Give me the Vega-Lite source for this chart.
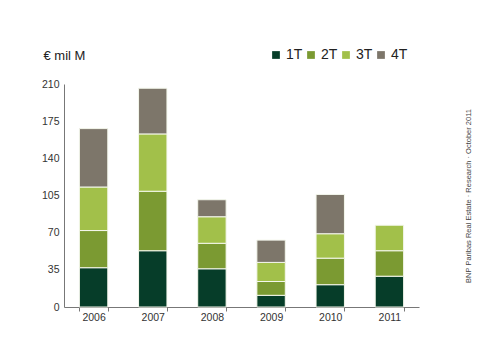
{
  "$schema": "https://vega.github.io/schema/vega-lite/v6.json",
  "width": 355,
  "height": 223,
  "autosize": "none",
  "padding": {"left": 64, "top": 84, "right": 81, "bottom": 49},
  "background": "white",
  "config": {"view": {"stroke": null}},
  "data": {"values": [
    {"year": "2006", "quarter": "1T", "value": 37},
    {"year": "2006", "quarter": "2T", "value": 35},
    {"year": "2006", "quarter": "3T", "value": 41},
    {"year": "2006", "quarter": "4T", "value": 55},
    {"year": "2007", "quarter": "1T", "value": 53},
    {"year": "2007", "quarter": "2T", "value": 56},
    {"year": "2007", "quarter": "3T", "value": 54},
    {"year": "2007", "quarter": "4T", "value": 43},
    {"year": "2008", "quarter": "1T", "value": 36},
    {"year": "2008", "quarter": "2T", "value": 24},
    {"year": "2008", "quarter": "3T", "value": 25},
    {"year": "2008", "quarter": "4T", "value": 16},
    {"year": "2009", "quarter": "1T", "value": 11},
    {"year": "2009", "quarter": "2T", "value": 13},
    {"year": "2009", "quarter": "3T", "value": 18},
    {"year": "2009", "quarter": "4T", "value": 21},
    {"year": "2010", "quarter": "1T", "value": 21},
    {"year": "2010", "quarter": "2T", "value": 25},
    {"year": "2010", "quarter": "3T", "value": 23},
    {"year": "2010", "quarter": "4T", "value": 37},
    {"year": "2011", "quarter": "1T", "value": 29},
    {"year": "2011", "quarter": "2T", "value": 24},
    {"year": "2011", "quarter": "3T", "value": 24}
  ]},
  "layer": [
    {
      "mark": {"type": "bar", "stroke": "#F4F7EC", "strokeWidth": 1},
      "encoding": {
        "x": {"field": "year", "type": "nominal",
          "scale": {"paddingInner": 0.52, "paddingOuter": 0.26},
          "axis": {"title": null, "labelAngle": 0, "tickBand": "extent", "domainColor": "#777777", "tickColor": "#777777", "tickSize": 4, "labelFont": "Liberation Sans", "labelFontSize": 10.5, "labelColor": "#333333", "labelPadding": 1}},
        "y": {"field": "value", "type": "quantitative", "stack": "zero",
          "scale": {"domain": [0, 210], "nice": false},
          "axis": {"values": [0, 35, 70, 105, 140, 175, 210], "title": "€ mil M", "titleAngle": 0, "titleX": -21, "titleY": -29, "titleAlign": "left", "titleBaseline": "middle", "titleFont": "Liberation Sans", "titleFontSize": 13, "titleFontWeight": "normal", "titleColor": "#222222", "grid": false, "ticks": false, "labelPadding": 5, "domainColor": "#777777", "labelFont": "Liberation Sans", "labelFontSize": 10.5, "labelColor": "#333333"}},
        "color": {"field": "quarter", "type": "nominal",
          "scale": {"domain": ["1T", "2T", "3T", "4T"], "range": ["#063D29", "#7B9A32", "#A2C04A", "#7D766A"]},
          "legend": {"orient": "none", "legendX": 205, "legendY": -36, "direction": "horizontal", "title": null, "symbolType": "square", "symbolSize": 60, "symbolStrokeWidth": 0, "labelFontSize": 14, "labelFont": "Liberation Sans", "labelColor": "#222222", "columnPadding": 1, "labelOffset": 3, "padding": 0}},
        "order": {"field": "quarter", "sort": "ascending"}
      }
    },
    {
      "mark": {"type": "rule", "opacity": 0},
      "encoding": {
        "y": {"datum": 0, "type": "quantitative",
          "scale": {"domain": [0, 210], "nice": false},
          "axis": {"orient": "right", "title": "BNP Paribas Real Estate · Research · October 2011", "labels": false, "ticks": false, "domain": false, "grid": false, "titleAngle": 270, "titlePadding": 53, "titleFontSize": 7.5, "titleFont": "Liberation Sans", "titleFontWeight": "normal", "titleColor": "#444444"}}
      }
    }
  ],
  "resolve": {"axis": {"y": "independent"}}
}
